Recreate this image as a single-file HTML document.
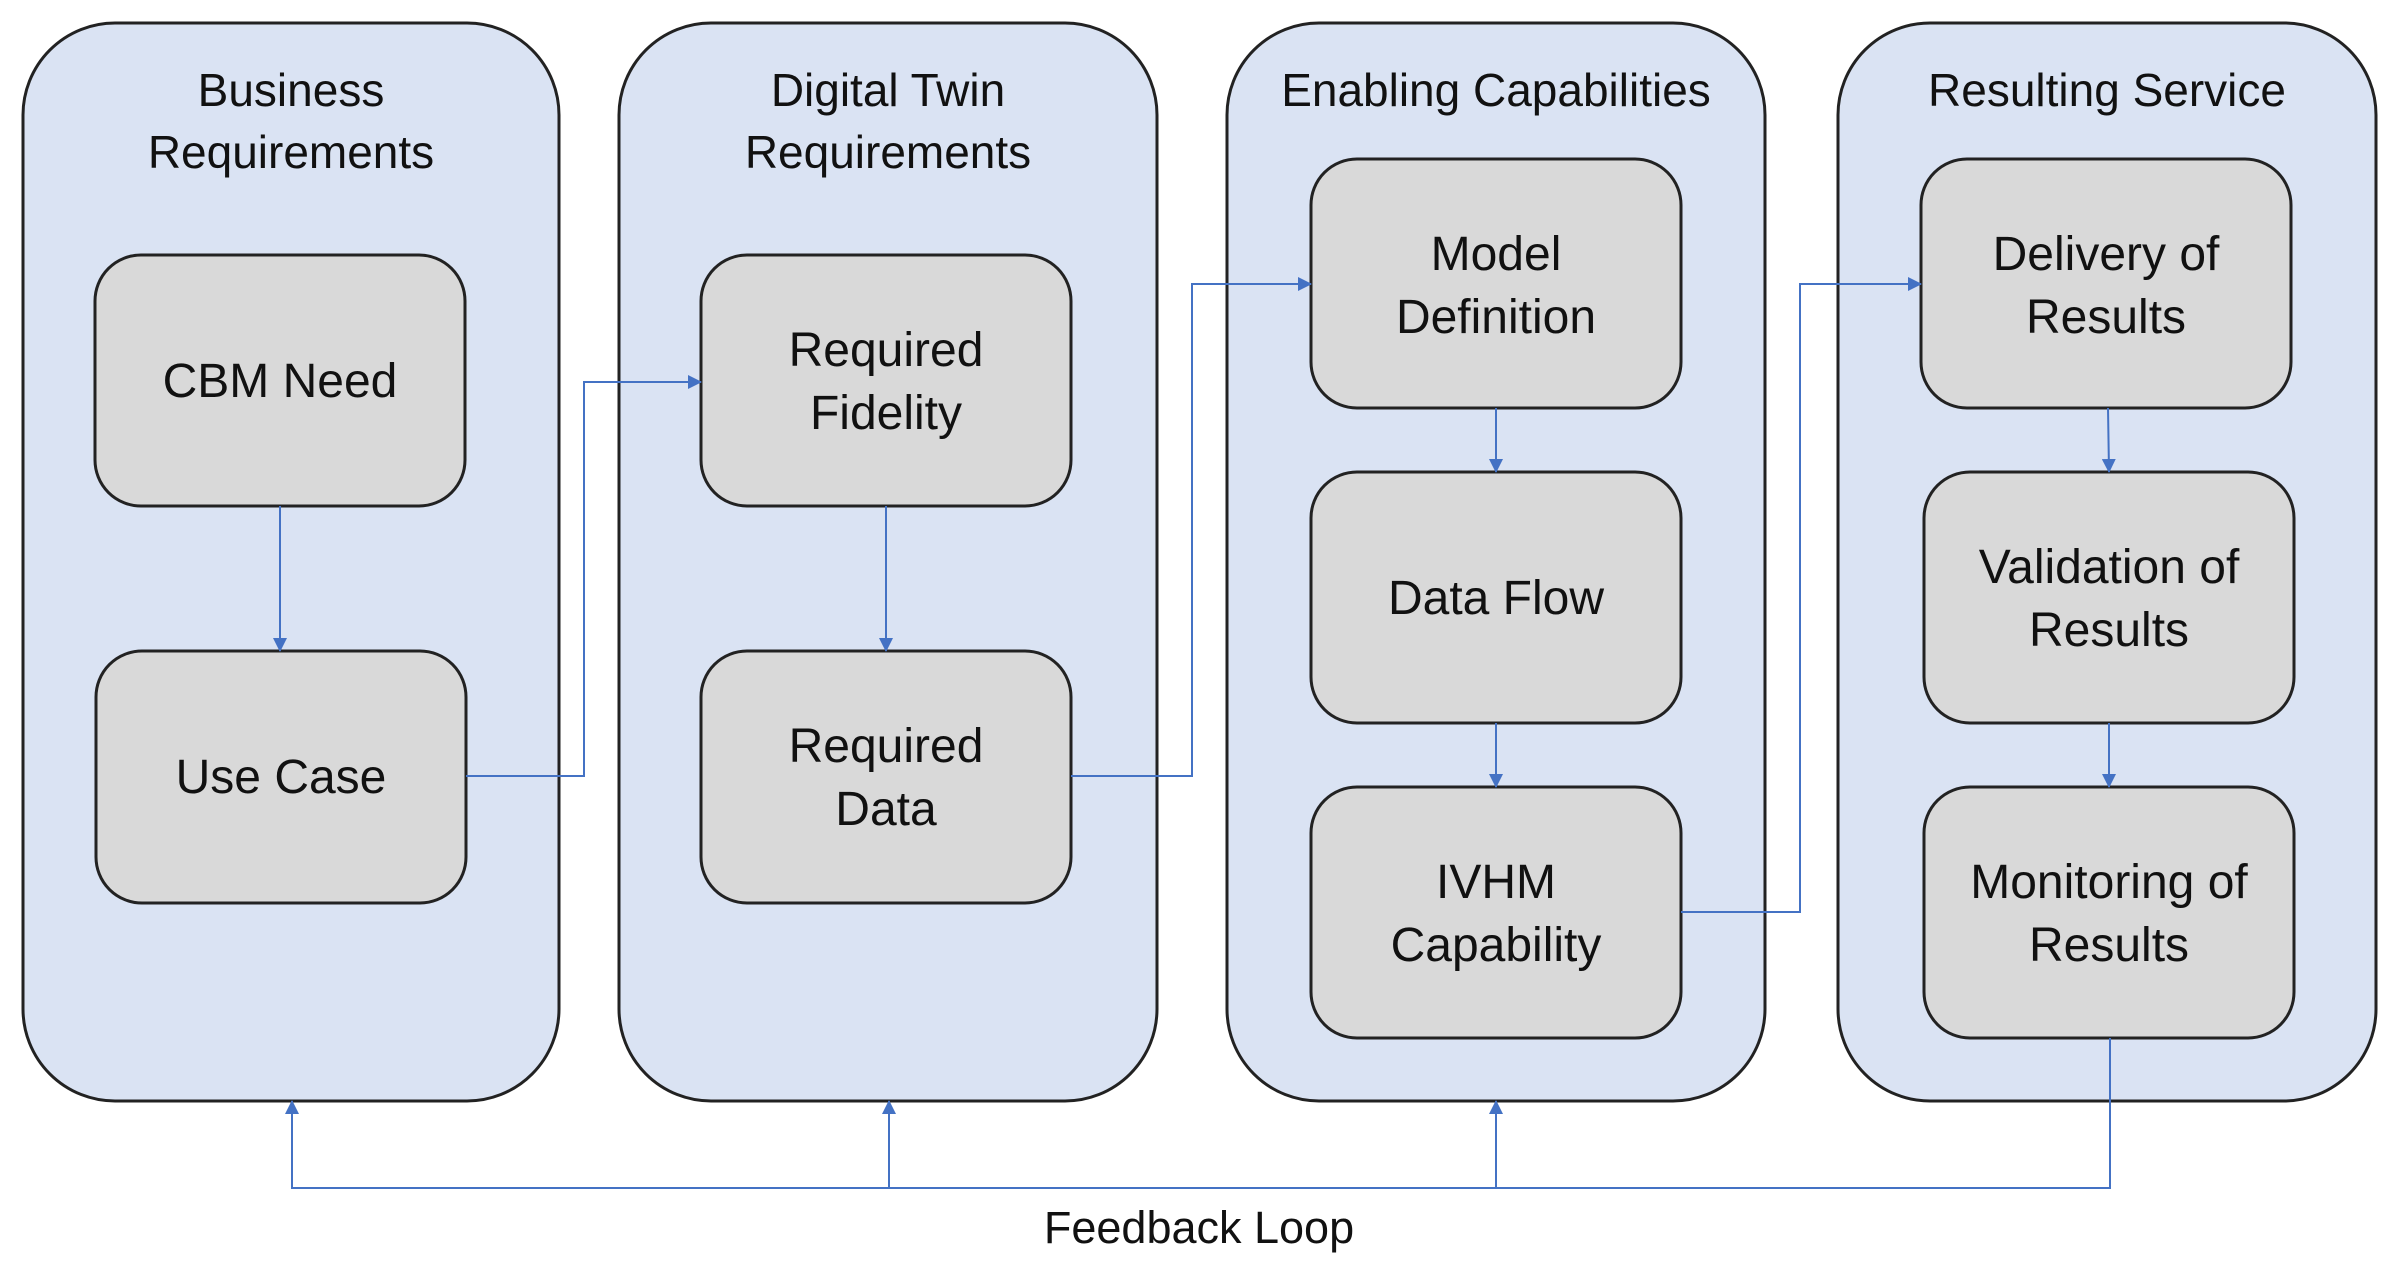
<!DOCTYPE html>
<html><head><meta charset="utf-8"><style>
html,body{margin:0;padding:0;background:#fff}
svg text{font-family:"Liberation Sans",sans-serif;fill:#111}
</style></head><body>
<svg width="2396" height="1269" viewBox="0 0 2396 1269" xmlns="http://www.w3.org/2000/svg">
<defs><marker id="a" markerWidth="14" markerHeight="14" refX="13" refY="7" orient="auto" markerUnits="userSpaceOnUse"><path d="M0,0 L14,7 L0,14 z" fill="#4472c4"/></marker></defs>
<g fill="#dae3f3" stroke="#222" stroke-width="3">
<rect x="23" y="23" width="536" height="1078" rx="92"/>
<rect x="619" y="23" width="538" height="1078" rx="92"/>
<rect x="1227" y="23" width="538" height="1078" rx="92"/>
<rect x="1838" y="23" width="538" height="1078" rx="92"/>
</g>
<g font-size="46" text-anchor="middle">
<text x="291" y="106">Business</text><text x="291" y="168">Requirements</text>
<text x="888" y="106">Digital Twin</text><text x="888" y="168">Requirements</text>
<text x="1496" y="106">Enabling Capabilities</text>
<text x="2107" y="106">Resulting Service</text>
</g>
<g fill="#d9d9d9" stroke="#222" stroke-width="3">
<rect x="95" y="255" width="370" height="251" rx="46"/>
<rect x="96" y="651" width="370" height="252" rx="46"/>
<rect x="701" y="255" width="370" height="251" rx="46"/>
<rect x="701" y="651" width="370" height="252" rx="46"/>
<rect x="1311" y="159" width="370" height="249" rx="46"/>
<rect x="1311" y="472" width="370" height="251" rx="46"/>
<rect x="1311" y="787" width="370" height="251" rx="46"/>
<rect x="1921" y="159" width="370" height="249" rx="46"/>
<rect x="1924" y="472" width="370" height="251" rx="46"/>
<rect x="1924" y="787" width="370" height="251" rx="46"/>
</g>
<g font-size="48" text-anchor="middle">
<text x="280" y="397">CBM Need</text>
<text x="281" y="793">Use Case</text>
<text x="886" y="366">Required</text><text x="886" y="429">Fidelity</text>
<text x="886" y="762">Required</text><text x="886" y="825">Data</text>
<text x="1496" y="270">Model</text><text x="1496" y="333">Definition</text>
<text x="1496" y="614">Data Flow</text>
<text x="1496" y="898">IVHM</text><text x="1496" y="961">Capability</text>
<text x="2106" y="270">Delivery of</text><text x="2106" y="333">Results</text>
<text x="2109" y="583">Validation of</text><text x="2109" y="646">Results</text>
<text x="2109" y="898">Monitoring of</text><text x="2109" y="961">Results</text>
<text x="1199" y="1243" font-size="45">Feedback Loop</text>
</g>
<g fill="none" stroke="#4472c4" stroke-width="2">
<path d="M466,776 H584 V382 H701" marker-end="url(#a)"/>
<path d="M1071,776 H1192 V284 H1311" marker-end="url(#a)"/>
<path d="M1681,912 H1800 V284 H1921" marker-end="url(#a)"/>
<path d="M280,506 V651" marker-end="url(#a)"/>
<path d="M886,506 V651" marker-end="url(#a)"/>
<path d="M1496,408 V472" marker-end="url(#a)"/>
<path d="M1496,723 V787" marker-end="url(#a)"/>
<path d="M2108,408 L2109,472" marker-end="url(#a)"/>
<path d="M2109,723 V787" marker-end="url(#a)"/>
<path d="M2110,1038 V1188 H292 V1101" marker-end="url(#a)"/>
<path d="M889,1188 V1101" marker-end="url(#a)"/>
<path d="M1496,1188 V1101" marker-end="url(#a)"/>
</g>
</svg>
</body></html>
